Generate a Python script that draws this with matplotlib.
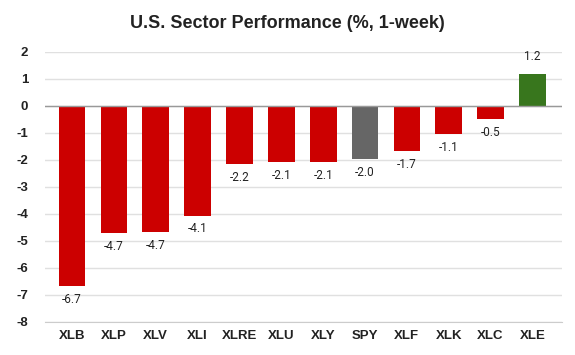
import matplotlib.pyplot as plt
import numpy as np

tickers = ['XLB', 'XLP', 'XLV', 'XLI', 'XLRE', 'XLU', 'XLY', 'SPY', 'XLF', 'XLK', 'XLC', 'XLE']
perf = [-6.66, -4.70, -4.68, -4.06, -2.16, -2.07, -2.08, -1.97, -1.68, -1.06, -0.50, 1.17]
colors = ['#cc0000'] * 7 + ['#666666'] + ['#cc0000'] * 3 + ['#38761d']
yticks = list(range(-8, 3))

plt.rcParams['font.family'] = ['Liberation Sans', 'DejaVu Sans']
plt.rcParams['axes.unicode_minus'] = False
fig = plt.figure(figsize=(5.75, 3.55), dpi=100)
ax = fig.add_axes([0.078, 0.093, 0.899, 0.761])

x = np.arange(len(tickers))
ax.bar(x, perf, width=0.64, color=colors, zorder=3)

for xi, v in zip(x, perf):
    if v < 0:
        ax.annotate(f'{v:.1f}', (xi, v), xytext=(0, -5), textcoords='offset points',
                    ha='center', va='top', fontsize=8.5, color='#222222', family='Roboto')
    else:
        ax.annotate(f'{v:.1f}', (xi, v), xytext=(0, 8), textcoords='offset points',
                    ha='center', va='bottom', fontsize=8.5, color='#222222', family='Roboto')

ax.set_xlim(-0.65, 11.7)
ax.set_ylim(-8, 2)
ax.set_yticks(yticks)
ax.set_xticks(x)
ax.set_xticklabels(tickers, fontweight='bold', fontsize=9.5, color='#222222')
for lbl in ax.get_yticklabels():
    lbl.set_fontweight('bold')
ax.tick_params(axis='y', labelsize=9.5, labelcolor='#222222', length=0, pad=12)
ax.tick_params(axis='x', length=0, pad=6)
ax.grid(axis='y', color='#e0e0e0', linewidth=1, zorder=0)
ax.axhline(0, color='#999999', linewidth=1, zorder=4)
for s in ['top', 'right', 'left']:
    ax.spines[s].set_visible(False)
ax.spines['bottom'].set_color('#cccccc')

fig.text(0.5, 0.935, 'U.S. Sector Performance (%, 1-week)', ha='center', va='center',
         fontsize=13, fontweight='bold', color='#222222')

fig.savefig('out.png', dpi=100)
